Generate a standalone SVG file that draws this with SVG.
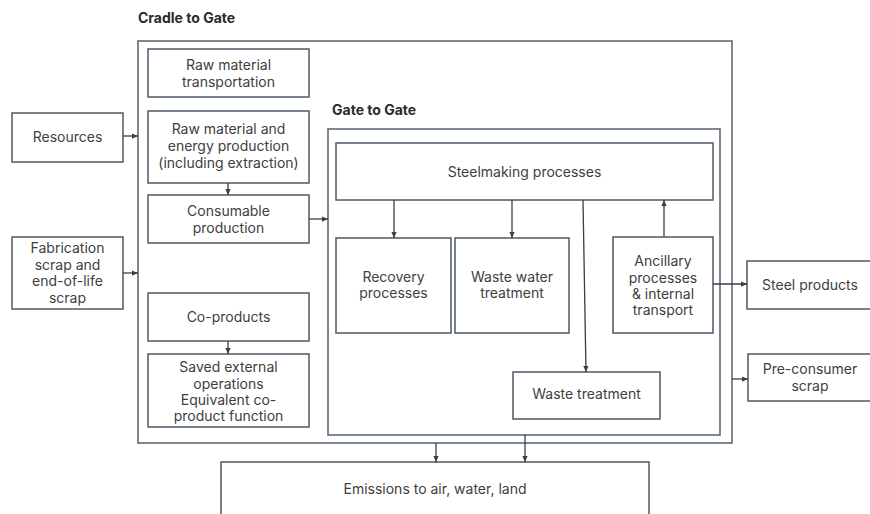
<svg xmlns="http://www.w3.org/2000/svg" width="870" height="514" viewBox="0 0 870 514">
<defs>
<marker id="ah" viewBox="0 0 8 8" refX="8" refY="4" markerWidth="6" markerHeight="6" markerUnits="userSpaceOnUse" orient="auto">
<path d="M0,0.5 L8,4 L0,7.5 z" fill="#3a3f46"/>
</marker>
<style>
.box{fill:#fff;stroke:#4e5864;stroke-width:1.5}
.frame{fill:none;stroke:#5f6a76;stroke-width:1.6}
.t{font-family:Inter,"Liberation Sans",Arial,sans-serif;font-size:14px;fill:#404040;text-anchor:middle}
.h{font-family:Inter,"Liberation Sans",Arial,sans-serif;font-size:14px;font-weight:bold;fill:#2a2a2a}
.c{stroke:#3a3f46;stroke-width:1.3;fill:none;marker-end:url(#ah)}
</style>
</defs>
<rect width="870" height="514" fill="#fff"/>

<g id="cradle-to-gate">
<rect class="frame" x="138" y="41" width="594" height="402"/>
<text class="h" x="138" y="23">Cradle to Gate</text>
</g>
<g id="gate-to-gate">
<rect class="frame" x="328" y="129" width="392" height="306"/>
<text class="h" x="332" y="115">Gate to Gate</text>
</g>

<g id="resources">
<rect class="box" x="12" y="113" width="111" height="49"/>
<text class="t" x="67.5" y="142">Resources</text>
</g>
<g id="fabrication-scrap">
<rect class="box" x="12" y="237" width="111" height="72"/>
<text class="t" x="67.5" y="253">Fabrication</text>
<text class="t" x="67.5" y="269.5">scrap and</text>
<text class="t" x="67.5" y="286">end-of-life</text>
<text class="t" x="67.5" y="302.5">scrap</text>
</g>
<g id="raw-material-transportation">
<rect class="box" x="148" y="49" width="161" height="48"/>
<text class="t" x="228.5" y="70">Raw material</text>
<text class="t" x="228.5" y="87">transportation</text>
</g>
<g id="raw-material-energy">
<rect class="box" x="148" y="111" width="161" height="72"/>
<text class="t" x="228.5" y="134">Raw material and</text>
<text class="t" x="228.5" y="151">energy production</text>
<text class="t" x="228.5" y="168">(including extraction)</text>
</g>
<g id="consumable-production">
<rect class="box" x="148" y="195" width="161" height="48"/>
<text class="t" x="228.5" y="216">Consumable</text>
<text class="t" x="228.5" y="233">production</text>
</g>
<g id="co-products">
<rect class="box" x="148" y="293" width="161" height="48"/>
<text class="t" x="228.5" y="322">Co-products</text>
</g>
<g id="saved-external">
<rect class="box" x="148" y="354" width="161" height="73"/>
<text class="t" x="228.5" y="372">Saved external</text>
<text class="t" x="228.5" y="388.5">operations</text>
<text class="t" x="228.5" y="405">Equivalent co-</text>
<text class="t" x="228.5" y="421">product function</text>
</g>
<g id="steelmaking">
<rect class="box" x="336" y="143" width="377" height="57"/>
<text class="t" x="524.5" y="177">Steelmaking processes</text>
</g>
<g id="recovery">
<rect class="box" x="336" y="238" width="115" height="95"/>
<text class="t" x="393.5" y="282">Recovery</text>
<text class="t" x="393.5" y="298">processes</text>
</g>
<g id="waste-water">
<rect class="box" x="455" y="238" width="114" height="95"/>
<text class="t" x="512" y="282">Waste water</text>
<text class="t" x="512" y="298">treatment</text>
</g>
<g id="ancillary">
<rect class="box" x="613" y="237" width="100" height="96"/>
<text class="t" x="663" y="266">Ancillary</text>
<text class="t" x="663" y="282.5">processes</text>
<text class="t" x="663" y="299">&amp; internal</text>
<text class="t" x="663" y="315">transport</text>
</g>
<g id="waste-treatment">
<rect class="box" x="513" y="372" width="147" height="47"/>
<text class="t" x="586.5" y="399">Waste treatment</text>
</g>
<g id="steel-products">
<rect class="box" x="747" y="261" width="130" height="48"/>
<text class="t" x="810" y="290">Steel products</text>
</g>
<g id="pre-consumer-scrap">
<rect class="box" x="748" y="354" width="129" height="47"/>
<text class="t" x="810" y="374">Pre-consumer</text>
<text class="t" x="810" y="391">scrap</text>
</g>
<g id="emissions">
<rect class="box" x="221" y="462" width="428" height="70"/>
<text class="t" x="435" y="494">Emissions to air, water, land</text>
</g>

<g id="connectors">
<line class="c" x1="123" y1="136" x2="138" y2="136"/>
<line class="c" x1="123" y1="273" x2="138" y2="273"/>
<line class="c" x1="228" y1="183" x2="228" y2="195"/>
<line class="c" x1="309" y1="219" x2="328" y2="219"/>
<line class="c" x1="228" y1="341" x2="228" y2="354"/>
<line class="c" x1="394" y1="200" x2="394" y2="238"/>
<line class="c" x1="512" y1="200" x2="512" y2="238"/>
<line class="c" x1="583" y1="200" x2="586" y2="372"/>
<line class="c" x1="664" y1="237" x2="664" y2="200"/>
<line class="c" x1="713" y1="284" x2="747" y2="284"/>
<line class="c" x1="732" y1="379" x2="748" y2="379"/>
<line class="c" x1="436" y1="443" x2="436" y2="462"/>
<line class="c" x1="525" y1="435" x2="525" y2="462"/>
</g>
</svg>
